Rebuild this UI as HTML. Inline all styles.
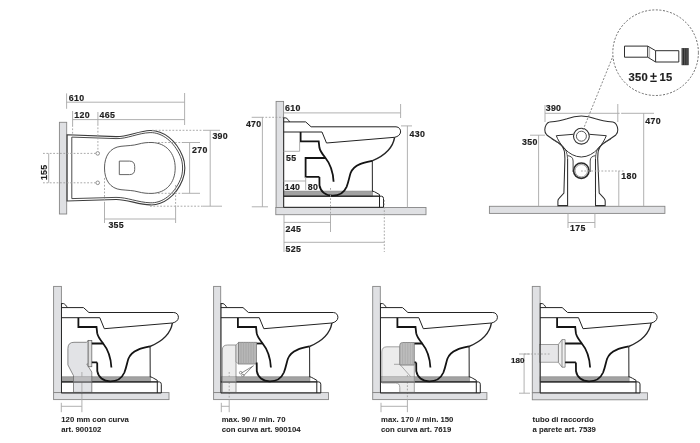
<!DOCTYPE html>
<html><head><meta charset="utf-8">
<style>
html,body{margin:0;padding:0;background:#fff;width:700px;height:443px;overflow:hidden}
svg{display:block;will-change:transform}
text{font-family:"Liberation Sans",sans-serif;font-weight:bold;fill:#1e1e1e;stroke:#1e1e1e;stroke-width:0.18px}
.n{font-size:8.8px;letter-spacing:0.3px}
.c{font-size:7.75px;stroke-width:0.05px}
.dim{stroke:#a8a8a8;stroke-width:0.9;fill:none}
.dot{stroke:#a0a0a0;stroke-width:0.9;fill:none;stroke-dasharray:1.8 1.6}
.wall{fill:#dfe0e3;stroke:#868686;stroke-width:0.9}
.ln{stroke:#222;stroke-width:1;fill:none}
.thk{stroke:#141414;stroke-width:1.8;fill:none;stroke-linejoin:miter}
</style></head>
<body>
<svg width="700" height="443" viewBox="0 0 700 443">
<defs>
<g id="toilet">
  <!-- grey band -->
  <rect x="283.6" y="191.1" width="89" height="5.2" fill="#a2a2a2" stroke="#8a8a8a" stroke-width="0.7"/>
  <line x1="283.6" y1="196.2" x2="379.5" y2="196.2" stroke="#3a3a3a" stroke-width="1"/>
  <path d="M372.4,191 C374,191.5 375,192 376,192.6 L379.5,194.6 L379.5,196.2" class="ln" stroke-width="0.8"/>
  <!-- base -->
  <path d="M283.6,196.2 L381.5,196.2 Q383.5,196.4 383.5,198.5 L383.5,207.3 L283.6,207.3" class="ln" stroke-width="1"/>
  <line x1="379.5" y1="196.2" x2="379.5" y2="207.3" class="ln" stroke-width="0.8"/>
  <!-- back line -->
  <line x1="283.7" y1="117.5" x2="283.7" y2="207.4" stroke="#2a2a2a" stroke-width="1"/>
  <!-- bump -->
  <path d="M283.6,117.9 L285.8,117.9 C287.3,118.3 288.6,120.2 289.6,122" class="ln" stroke-width="1.3"/>
  <!-- top seat line -->
  <path d="M283.6,121.9 L305.7,121.9 L311.1,126.8 L396,126.8 C399.2,126.9 400.8,129.5 400.6,132 C400.3,134.8 398,136.6 394.6,137.3" class="ln" stroke-width="1.1"/>
  <!-- rim inner -->
  <path d="M283.6,132 L322,132 L326.5,143 L394.6,137.3" class="ln" stroke-width="1.1"/>
  <!-- bowl outer thin -->
  <path d="M394.6,137.3 C393,147 385,155.5 372.1,160.8" fill="none" stroke="#262626" stroke-width="1.45"/>
  <!-- pedestal vertical -->
  <line x1="372.3" y1="160.8" x2="372.4" y2="191.5" class="ln" stroke-width="0.9"/>
  <!-- upper black path -->
  <path d="M300.6,132 L300.6,141.3 L318.7,141.3 L319.4,147.5 C320,151 322.3,154 325,157.3 C329.3,162.6 333,170 333.6,181.8" class="thk"/>
  <!-- lower black S path -->
  <path d="M319.4,176.9 L319.5,185.5 C320.5,191.5 325.5,195.7 332.6,195.7 C339.5,195.7 344.2,192.2 346.6,186.8 C348.6,182 349.4,176.5 350.6,173 C352,169.3 355.5,166 360,164.1 C364,162.5 368,161.7 372.1,160.8" class="thk"/>
</g>
</defs>

<!-- ============ PLAN VIEW ============ -->
<g>
  <rect x="59.4" y="122.3" width="7.3" height="91.7" class="wall"/>
  <!-- outer outline double -->
  <path d="M67.1,134.8 L116,136.6 C127,137 138,131 150.1,130.5 C163,130.2 176,140 182.5,156 C185.6,163 185.6,173 182.5,180 C176,196 163,205.5 150.1,204.9 C138,204.5 127,199.3 116,199.5 L67.1,201 Z" fill="none" stroke="#3c3c3c" stroke-width="1.1"/>
  <path d="M71.8,137.1 L116,138.6 C127,139 138,133 150.1,132.6 C162,132.3 174,141.5 180.4,156.5 C183.3,163 183.3,173 180.4,179.5 C174,194.5 162,203.5 150.1,202.8 C138,202.4 127,197.2 116,197.4 L71.8,198.6 Z" fill="none" stroke="#383838" stroke-width="0.9"/>
  <!-- inner bowl -->
  <path d="M104.5,168 C104.5,156 110,147.5 121,146.3 C128,145.6 133,145.6 138,144.2 C143,142.8 147,142.4 152,142.5 C166,143 175.2,153 175.2,168 C175.2,183 166,193 152,193.4 C147,193.5 143,193.1 138,191.8 C133,190.4 128,190.4 121,189.7 C110,188.5 104.5,180 104.5,168 Z" fill="none" stroke="#4a4a4a" stroke-width="0.9"/>
  <!-- seat D -->
  <path d="M119.3,161.1 L129.5,161.1 Q134.7,161.1 134.7,166.5 L134.7,169.5 Q134.7,174.6 129.5,174.6 L119.3,174.6 Z" fill="none" stroke="#555" stroke-width="0.9"/>
  <circle cx="97.7" cy="153.4" r="1.8" fill="none" stroke="#666" stroke-width="0.7"/>
  <circle cx="97.7" cy="182.8" r="1.8" fill="none" stroke="#666" stroke-width="0.7"/>
  <!-- dims -->
  <line x1="66.6" y1="102.2" x2="184.6" y2="102.2" class="dim"/>
  <line x1="66.6" y1="93.4" x2="66.6" y2="108.8" class="dim"/>
  <line x1="184.6" y1="93" x2="184.6" y2="125" class="dim"/>
  <text x="68.8" y="100.6" class="n">610</text>
  <line x1="72.6" y1="119.6" x2="184.6" y2="119.6" class="dim"/>
  <line x1="72.6" y1="111" x2="72.6" y2="125" class="dim"/>
  <line x1="72.6" y1="125" x2="72.6" y2="134" class="dot"/>
  <line x1="97.9" y1="112" x2="97.9" y2="124" class="dim"/>
  <line x1="97.9" y1="124" x2="97.9" y2="151" class="dot"/>
  <text x="74.3" y="117.8" class="n">120</text>
  <text x="99.6" y="117.8" class="n">465</text>
  <!-- 155 -->
  <line x1="43" y1="153.4" x2="96" y2="153.4" class="dot"/>
  <line x1="43" y1="182.8" x2="96" y2="182.8" class="dot"/>
  <line x1="48.7" y1="153.4" x2="48.7" y2="182.8" class="dim"/>
  <text class="n" transform="translate(46.8,172.3) rotate(-90)" text-anchor="middle">155</text>
  <!-- 390 / 270 -->
  <line x1="152" y1="130.3" x2="203" y2="130.3" class="dot"/>
  <line x1="203" y1="130.3" x2="220" y2="130.3" class="dim"/>
  <line x1="150" y1="206.2" x2="203" y2="206.2" class="dot"/>
  <line x1="203" y1="206.2" x2="222" y2="206.2" class="dim"/>
  <line x1="158" y1="142.5" x2="183" y2="142.5" class="dot"/>
  <line x1="183" y1="142.5" x2="200" y2="142.5" class="dim"/>
  <line x1="158" y1="193.3" x2="183" y2="193.3" class="dot"/>
  <line x1="183" y1="193.3" x2="200" y2="193.3" class="dim"/>
  <line x1="210.2" y1="130.3" x2="210.2" y2="206.2" class="dim"/>
  <line x1="189.6" y1="142.5" x2="189.6" y2="193.3" class="dim"/>
  <text x="212.4" y="138.8" class="n">390</text>
  <text x="192" y="153.1" class="n">270</text>
  <!-- 355 -->
  <line x1="104.5" y1="178" x2="104.5" y2="203" class="dot"/>
  <line x1="104.5" y1="203" x2="104.5" y2="223" class="dim"/>
  <line x1="175.6" y1="185" x2="175.6" y2="207" class="dot"/>
  <line x1="175.6" y1="207" x2="175.6" y2="223" class="dim"/>
  <line x1="104.5" y1="219" x2="175.6" y2="219" class="dim"/>
  <text x="108.4" y="228.3" class="n">355</text>
</g>

<!-- ============ SIDE VIEW (top middle) ============ -->
<g>
  <rect x="276.1" y="101.4" width="7.5" height="106.1" class="wall"/>
  <rect x="275.8" y="207.5" width="150.2" height="7.2" class="wall"/>
  <use href="#toilet"/>
  <path d="M325.5,158 L305.6,158 L305.6,176.9 L319.4,176.9" class="thk"/>
  <!-- dims -->
  <line x1="283.6" y1="112.9" x2="400.6" y2="112.9" class="dim"/>
  <line x1="400.6" y1="104" x2="400.6" y2="118" class="dim"/>
  <text x="285" y="111.1" class="n">610</text>
  <line x1="251.7" y1="117.3" x2="262" y2="117.3" class="dim"/>
  <line x1="262" y1="117.3" x2="283" y2="117.3" class="dot"/>
  <line x1="262.4" y1="117.3" x2="262.4" y2="206.8" class="dim"/>
  <line x1="251.8" y1="206.8" x2="268" y2="206.8" class="dim"/>
  <text x="245.9" y="126.6" class="n">470</text>
  <line x1="401" y1="125.9" x2="412" y2="125.9" class="dim"/>
  <line x1="407.4" y1="125.9" x2="407.4" y2="207.5" class="dim"/>
  <text x="409.6" y="137.2" class="n">430</text>
  <line x1="283.6" y1="151.3" x2="299.6" y2="151.3" class="dim"/>
  <line x1="299.6" y1="142" x2="299.6" y2="151.3" class="dim"/>
  <text x="286.1" y="160.7" class="n">55</text>
  <line x1="283.6" y1="181" x2="305.7" y2="181" class="dim"/>
  <line x1="305.7" y1="177" x2="305.7" y2="190" class="dim"/>
  <text x="284.7" y="189.9" class="n">140</text>
  <text x="307.8" y="189.9" class="n">80</text>
  <line x1="284" y1="215" x2="284" y2="252" class="dim"/>
  <line x1="330.5" y1="188" x2="330.5" y2="214" class="dot"/>
  <line x1="330.5" y1="214.7" x2="330.5" y2="232" class="dim"/>
  <line x1="384.3" y1="200" x2="384.3" y2="252" class="dot"/>
  <line x1="284" y1="222.4" x2="330.5" y2="222.4" class="dim"/>
  <line x1="284" y1="242.3" x2="384.3" y2="242.3" class="dim"/>
  <text x="285.5" y="232.4" class="n">245</text>
  <text x="285.5" y="251.7" class="n">525</text>
</g>

<!-- ============ FRONT VIEW ============ -->
<g>
  <rect x="489.4" y="206.3" width="175.5" height="7.1" class="wall"/>
  <!-- outline -->
  <path d="M549.7,122 C556,121.5 562,120.6 567,118.8 C571.5,117 575.5,115.9 581.3,115.9 C587.1,115.9 591.1,117 595.6,118.8 C600.6,120.6 606.6,121.5 612.9,122 C615.5,122.3 617.7,126 617.8,129.8 C617.9,132 617,133.8 615.8,135 C612.6,137.8 606.6,140.8 602.6,144 C599.6,146.5 598.3,150 598,153 L597.7,158.6 L599.2,193.1 L603.9,198.2 Q605.2,199.5 605.2,201 L605.2,205.6 L595.5,205.6 L595.5,158.6" fill="none" stroke="#2e2e2e" stroke-width="1.05"/>
  <path d="M549.7,122 C547.1,122.3 544.9,126 544.8,129.8 C544.7,132 545.6,133.8 546.8,135 C550,137.8 556,140.8 560,144 C563,146.5 564.3,150 564.6,153 L564.9,158.6 L563.9,193.1 L559.3,198.2 Q557.9,199.5 557.9,201 L557.9,205.6 L567.6,205.6 L567.6,158.6" fill="none" stroke="#2e2e2e" stroke-width="1.05"/>
  <path d="M551.5,138.8 C556,141.5 561,144.5 564,147.5 C566,150 567.2,153 567.6,158.6" fill="none" stroke="#444" stroke-width="0.9"/>
  <path d="M611.1,138.8 C606.6,141.5 601.6,144.5 598.6,147.5 C596.6,150 595.9,153 595.5,158.6" fill="none" stroke="#444" stroke-width="0.9"/>
  <!-- inner bowl shape -->
  <path d="M573.3,134.3 L556.3,135.7 C559,143 568,156.8 581.3,157 C594.6,156.8 603.6,143 606.3,135.7 L589.3,134.3" fill="none" stroke="#333" stroke-width="1"/>
  <circle cx="581.4" cy="136.2" r="7.9" fill="none" stroke="#333" stroke-width="1.1"/>
  <circle cx="581.4" cy="136.2" r="5" fill="none" stroke="#444" stroke-width="0.9"/>
  <!-- U arch -->
  <path d="M567.6,155.6 C571,156.2 573.1,157.5 573.1,161 L573.1,172 M595.5,155.6 C592,156.2 590.2,157.5 590.2,161 L590.2,172" fill="none" stroke="#333" stroke-width="0.9"/>
  <circle cx="581.3" cy="170.7" r="7.7" fill="#fff" stroke="#2a2a2a" stroke-width="1.6"/>
  <circle cx="581.3" cy="170.7" r="6.2" fill="none" stroke="#666" stroke-width="0.6"/>
  <!-- dims -->
  <line x1="545" y1="113.3" x2="617.8" y2="113.3" class="dim"/>
  <line x1="617.8" y1="113.3" x2="623" y2="113.3" class="dot"/>
  <line x1="623" y1="113.3" x2="654" y2="113.3" class="dim"/>
  <line x1="545" y1="105" x2="545" y2="122" class="dim"/>
  <line x1="617.8" y1="104" x2="617.8" y2="122" class="dim"/>
  <text x="545.7" y="110.8" class="n">390</text>
  <line x1="643.7" y1="113.3" x2="643.7" y2="206.3" class="dim"/>
  <text x="645.3" y="123.6" class="n">470</text>
  <line x1="530" y1="135.2" x2="545" y2="135.2" class="dim"/>
  <line x1="538.6" y1="135.2" x2="538.6" y2="206.3" class="dim"/>
  <text x="522" y="144.8" class="n">350</text>
  <line x1="581" y1="171" x2="625" y2="171" class="dot"/>
  <line x1="618.8" y1="171" x2="618.8" y2="206.3" class="dim"/>
  <text x="621.3" y="179.3" class="n">180</text>
  <line x1="568" y1="213.5" x2="568" y2="228" class="dim"/>
  <line x1="594.9" y1="213.5" x2="594.9" y2="228" class="dim"/>
  <line x1="568" y1="222.5" x2="594.9" y2="222.5" class="dim"/>
  <text x="570" y="230.8" class="n">175</text>
  <!-- leader + callout -->
  <line x1="583" y1="130" x2="613" y2="56" style="stroke:#7a7a7a;stroke-width:0.9;stroke-dasharray:2 1.6"/>
  <circle cx="655.6" cy="52.7" r="42.8" fill="none" stroke="#6a6a6a" stroke-width="1" stroke-dasharray="2 1.6"/>
  <path d="M624.5,46.1 L647.7,46.1 L655.6,50.7 L678.8,50.7 L678.8,62 L655.6,62 L647.7,57.2 L624.5,57.2 Z M647.7,46.1 L647.7,57.2 M655.6,50.7 L655.6,62" fill="#fff" stroke="#2e2e2e" stroke-width="1"/>
  <line x1="649.6" y1="47.2" x2="649.6" y2="58.3" stroke="#777" stroke-width="0.6"/>
  <rect x="681.9" y="48.4" width="6.5" height="16.5" fill="#6a6a6a" stroke="#333" stroke-width="0.6"/>
  <path d="M683.4,48.4 V64.9 M685.2,48.4 V64.9 M687,48.4 V64.9" stroke="#1e1e1e" stroke-width="0.9"/>
  <text x="628.6" y="80.5" style="font-size:11.2px;letter-spacing:0.2px">350</text>
  <rect x="650.3" y="75.5" width="6.4" height="1.4" fill="#1e1e1e"/>
  <rect x="652.8" y="72.9" width="1.4" height="6.4" fill="#1e1e1e"/>
  <rect x="650.3" y="80.6" width="6.4" height="1.4" fill="#1e1e1e"/>
  <text x="659.6" y="80.5" style="font-size:11.2px;letter-spacing:0.2px">15</text>
</g>

<!-- ============ BOTTOM ROW ============ -->
<g>
  <!-- b1 -->
  <rect x="53.6" y="286.4" width="7.8" height="106.2" class="wall"/>
  <rect x="53.6" y="392.6" width="115.4" height="7" class="wall"/>
  <path d="M73.5,392.4 L73.5,375.7 L67.9,364.9 L67.9,348.5 Q67.9,342.3 74,342.3 L86.4,342.3 L88.2,340.6 L88.2,364 L86.8,364 L91.8,372.1 L91.8,392.4 Z" fill="#e2e3e6" stroke="#6e6e6e" stroke-width="0.8"/>
  <rect x="88.2" y="340.5" width="3.6" height="26.2" fill="#eeeeee" stroke="#666" stroke-width="0.8"/>
  <line x1="90" y1="341" x2="90" y2="366" stroke="#aaa" stroke-width="0.5"/>
  <line x1="81.9" y1="372" x2="81.9" y2="412.2" stroke="#a8a8a8" stroke-width="0.9"/>
  <use href="#toilet" x="-222.2" y="185.7"/>
  <rect x="73.5" y="376.5" width="18.3" height="6" fill="#e6e7ea" opacity="0.4"/>
  <path d="M73.5,376 V383 M91.8,376 V383" stroke="#6e6e6e" stroke-width="0.8"/>
  <path d="M91.8,343.5 L103.3,343.5 M91.8,362.4 L97.2,362.4" class="thk"/>
  <line x1="61.3" y1="406.3" x2="81.8" y2="406.3" class="dim"/>
  <line x1="61.3" y1="402.8" x2="61.3" y2="412.2" class="dim"/>
  <text x="61.3" y="422.2" class="c">120 mm con curva</text>
  <text x="61.3" y="431.6" class="c">art. 900102</text>

  <!-- b2 -->
  <rect x="213.6" y="286.4" width="7.1" height="106.2" class="wall"/>
  <rect x="213.6" y="392.6" width="114.9" height="7" class="wall"/>
  <path d="M222.3,392.4 L222.3,350 Q222.3,345 227.5,345 L236,345 L236,392.4 Z" fill="#ededed" stroke="#808080" stroke-width="0.8"/>
  <path d="M236,345 L238.6,342.3 L238.6,364 L236,362 Z" fill="#d8d8d8" stroke="#888" stroke-width="0.7"/>
  <rect x="238.6" y="342.3" width="17.9" height="21.7" fill="#b6b6b6" stroke="#7a7a7a" stroke-width="0.8"/>
  <path d="M241,342.3 V364 M243.5,342.3 V364 M246,342.3 V364 M248.5,342.3 V364 M251,342.3 V364 M253.5,342.3 V364" stroke="#a2a2a2" stroke-width="0.6"/>
  <path d="M241.5,373 L253.8,365.6 M243.5,375.8 L252.5,366.5" stroke="#555" stroke-width="0.7"/>
  <circle cx="240.7" cy="372.7" r="1.3" fill="none" stroke="#555" stroke-width="0.6"/>
  <circle cx="242.9" cy="375.6" r="1.3" fill="none" stroke="#555" stroke-width="0.6"/>
  <line x1="229.2" y1="372" x2="229.2" y2="400" class="dot"/>
  <line x1="229.2" y1="400" x2="229.2" y2="412.2" class="dim"/>
  <use href="#toilet" x="-62.7" y="185.7"/>
  <rect x="222.3" y="376.5" width="13.7" height="6" fill="#eeeeee" opacity="0.4"/>
  <path d="M222.3,376 V383 M236,376 V383" stroke="#808080" stroke-width="0.8"/>
  <path d="M256.9,343.5 L262.8,343.5" class="thk"/>
  <line x1="221.3" y1="406.3" x2="229.2" y2="406.3" class="dim"/>
  <line x1="221.3" y1="402.8" x2="221.3" y2="412.2" class="dim"/>
  <text x="221.7" y="422.2" class="c">max. 90 // min. 70</text>
  <text x="221.7" y="431.6" class="c">con curva art. 900104</text>

  <!-- b3 -->
  <rect x="372.7" y="286.4" width="7.6" height="106.2" class="wall"/>
  <rect x="372.7" y="392.6" width="114.2" height="7" class="wall"/>
  <path d="M381.8,378 L381.8,352 Q381.8,346.8 387,346.8 L400,346.8 L400,364.8 L414.3,364.8 L414.3,392.4 L399.8,392.4 L399.8,387.5 Q399.8,383 395.5,383 L381.8,383 Z" fill="#ececec" stroke="#8e8e8e" stroke-width="0.8"/>
  <path d="M394,364.3 L399.8,364.3 L411,377 " fill="none" stroke="#8a8a8a" stroke-width="0.7"/>
  <path d="M399.8,364.9 L399.8,345 Q400,342.5 402.5,342.5 L414.3,342.5 L414.3,364.9 Z" fill="#bdbdbd" stroke="#7a7a7a" stroke-width="0.8"/>
  <path d="M402.6,342.5 V364.9 M405.2,342.5 V364.9 M407.8,342.5 V364.9 M410.4,342.5 V364.9 M412.8,342.5 V364.9" stroke="#a4a4a4" stroke-width="0.6"/>
  <line x1="407.4" y1="375" x2="407.4" y2="400" class="dot"/>
  <line x1="407.4" y1="400" x2="407.4" y2="412.2" class="dim"/>
  <use href="#toilet" x="96.8" y="185.7"/>
  <rect x="381.8" y="376.5" width="32.5" height="6" fill="#eeeeee" opacity="0.4"/>
  <path d="M381.8,376 V383 M414.3,376 V383" stroke="#8e8e8e" stroke-width="0.8"/>
  <path d="M414.5,343.5 L422.3,343.5 M414.5,362.4 L416.2,362.4" class="thk"/>
  <line x1="381" y1="406.3" x2="407.3" y2="406.3" class="dim"/>
  <line x1="381" y1="402.8" x2="381" y2="412.2" class="dim"/>
  <text x="381" y="422.2" class="c">max. 170 // min. 150</text>
  <text x="381" y="431.6" class="c">con curva art. 7619</text>

  <!-- b4 -->
  <rect x="532.3" y="286.4" width="7.8" height="106.2" class="wall"/>
  <rect x="532.3" y="392.8" width="115.2" height="7" class="wall"/>
  <rect x="539.6" y="344.4" width="18.8" height="17.8" fill="#e6e6e8" stroke="#8a8a8a" stroke-width="0.8"/>
  <path d="M558.4,344.4 L562,339.6 L565.1,339.6 L565.1,367.2 L562,367.2 L558.4,362.4 Z M562,339.6 L562,367.2" fill="#f0f0f0" stroke="#7a7a7a" stroke-width="0.8"/>
  <use href="#toilet" x="256.5" y="185.7"/>
  <path d="M565.1,343.5 L582,343.5 M565.1,362.4 L575.9,362.4" class="thk"/>
  <line x1="524" y1="354" x2="550" y2="354" class="dot"/>
  <line x1="524.1" y1="354" x2="524.1" y2="393.2" class="dim"/>
  <line x1="519" y1="354" x2="530" y2="354" class="dim"/>
  <line x1="519" y1="393.2" x2="530" y2="393.2" class="dim"/>
  <text x="511" y="362.8" style="font-size:8px">180</text>
  <text x="532.6" y="422.2" class="c">tubo di raccordo</text>
  <text x="532.6" y="431.6" class="c">a parete art. 7539</text>
</g>
</svg>
</body></html>
